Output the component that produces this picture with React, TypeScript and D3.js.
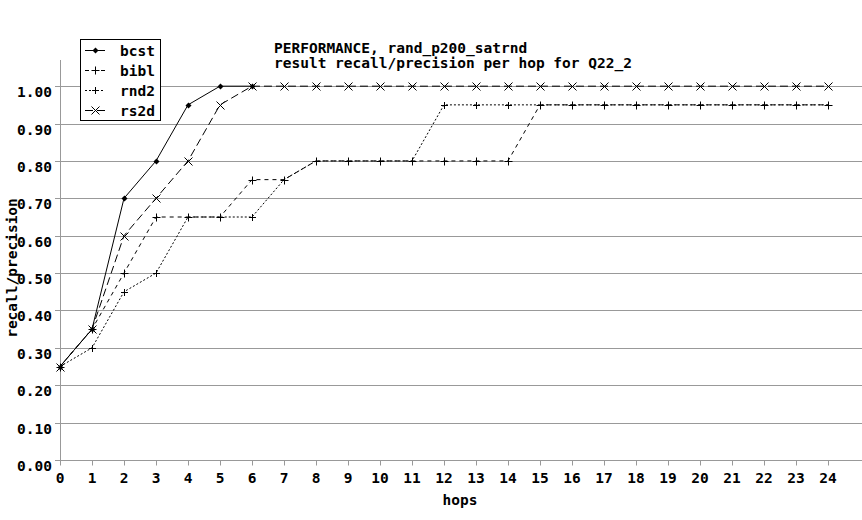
import * as d3 from "d3";

// hops on the x axis
const hops = [0, 1, 2, 3, 4, 5, 6, 7, 8, 9, 10, 11, 12, 13, 14, 15, 16, 17, 18, 19, 20, 21, 22, 23, 24];
const yTicks = [0, 0.1, 0.2, 0.3, 0.4, 0.5, 0.6, 0.7, 0.8, 0.9, 1.0];

// recall/precision per hop
const bcst = [0.25, 0.35, 0.7, 0.8, 0.95, 1.0, 1.0];
const bibl = [0.25, 0.35, 0.5, 0.65, 0.65, 0.65, 0.75, 0.75, 0.8, 0.8, 0.8, 0.8, 0.8, 0.8, 0.8, 0.95, 0.95, 0.95, 0.95, 0.95, 0.95, 0.95, 0.95, 0.95, 0.95];
const rnd2 = [0.25, 0.3, 0.45, 0.5, 0.65, 0.65, 0.65, 0.75, 0.8, 0.8, 0.8, 0.8, 0.95, 0.95, 0.95, 0.95, 0.95, 0.95, 0.95, 0.95, 0.95, 0.95, 0.95, 0.95, 0.95];
const rs2d = [0.25, 0.35, 0.6, 0.7, 0.8, 0.95, 1.0, 1.0, 1.0, 1.0, 1.0, 1.0, 1.0, 1.0, 1.0, 1.0, 1.0, 1.0, 1.0, 1.0, 1.0, 1.0, 1.0, 1.0, 1.0];

const titleLines = ["PERFORMANCE, rand_p200_satrnd", "result recall/precision per hop for Q22_2"];

type Marker = "dot" | "plus" | "smallplus" | "cross";
const series: { name: string; values: number[]; dash: string | undefined; marker: Marker }[] = [
  { name: "bcst", values: bcst, dash: undefined, marker: "dot" },
  { name: "bibl", values: bibl, dash: "4,4", marker: "plus" },
  { name: "rnd2", values: rnd2, dash: "2,2", marker: "smallplus" },
  { name: "rs2d", values: rs2d, dash: "8,4", marker: "cross" },
];

const W = 862;
const H = 520;
const FONT = "'DejaVu Sans Mono', monospace";
const GRID = "#999999";

const x = d3.scaleLinear().domain([0, 24]).range([60, 828]);
const y = d3.scaleLinear().domain([0, 1.07]).range([460, 60]);

function drawMarker(kind: Marker, cx: number, cy: number, key: string) {
  if (kind === "dot") {
    return <path key={key} d={`M${cx},${cy - 3}L${cx + 3},${cy}L${cx},${cy + 3}L${cx - 3},${cy}Z`} fill="#000" />;
  }
  if (kind === "plus" || kind === "smallplus") {
    const a = kind === "plus" ? 4 : 3.5;
    return <path key={key} d={`M${cx - a},${cy}H${cx + a}M${cx},${cy - a}V${cy + a}`} stroke="#000" strokeWidth={1} fill="none" />;
  }
  const a = 4;
  return <path key={key} d={`M${cx - a},${cy - a}L${cx + a},${cy + a}M${cx - a},${cy + a}L${cx + a},${cy - a}`} stroke="#000" strokeWidth={1} fill="none" />;
}

export default function App() {
  const line = d3
    .line<number>()
    .x((_, i) => x(hops[i]))
    .y((d) => y(d));

  const px = (v: number) => Math.round(v) + 0.5;

  return (
    <div style={{ position: "fixed", left: 0, top: 0 }}>
      <svg width={W} height={H} style={{ display: "block", background: "#fff" }} fontFamily={FONT}>
        <rect width={W} height={H} fill="#fff" />

        {/* grid + y ticks */}
        {yTicks.map((t) => (
          <g key={t}>
            {t > 0 && <line x1={60} x2={W} y1={px(y(t))} y2={px(y(t))} stroke={GRID} />}
            <line x1={55} x2={60} y1={px(y(t))} y2={px(y(t))} stroke={GRID} />
            <text x={52} y={px(y(t)) + 10} textAnchor="end" fontSize={14.5} fontWeight="bold">
              {d3.format(".2f")(t)}
            </text>
          </g>
        ))}

        {/* axes */}
        <line x1={60.5} x2={60.5} y1={60} y2={px(y(0))} stroke={GRID} />
        <line x1={60} x2={W} y1={px(y(0))} y2={px(y(0))} stroke={GRID} />
        {hops.map((h) => (
          <g key={h}>
            <line x1={px(x(h))} x2={px(x(h))} y1={px(y(0))} y2={px(y(0)) + 5} stroke={GRID} />
            <text x={x(h)} y={483} textAnchor="middle" fontSize={14.5} fontWeight="bold">
              {h}
            </text>
          </g>
        ))}
        <text x={460} y={505} textAnchor="middle" fontSize={14.5} fontWeight="bold">
          hops
        </text>
        <text transform="translate(17,268) rotate(-90)" textAnchor="middle" fontSize={14.5} fontWeight="bold">
          recall/precision
        </text>

        {/* series */}
        {series.map((s) => (
          <g key={s.name}>
            <path d={line(s.values) || ""} fill="none" stroke="#000" strokeWidth={1} strokeDasharray={s.dash} />
            {s.values.map((v, i) => drawMarker(s.marker, px(x(hops[i])), px(y(v)), `${s.name}-${i}`))}
          </g>
        ))}

        {/* title */}
        {titleLines.map((t, i) => (
          <text key={t} x={274} y={52.5 + i * 15} fontSize={14.5} fontWeight="bold">
            {t}
          </text>
        ))}

        {/* legend */}
        <rect x={80.5} y={39.5} width={80} height={81} fill="#fff" stroke="#000" />
        {series.map((s, i) => {
          const ly = 50.5 + i * 20;
          return (
            <g key={s.name}>
              <line x1={85} x2={105} y1={ly} y2={ly} stroke="#000" strokeDasharray={s.dash} />
              {drawMarker(s.marker, 95.5, ly, `leg-${s.name}`)}
              <text x={120} y={ly + 5} fontSize={14.5} fontWeight="bold">
                {s.name}
              </text>
            </g>
          );
        })}
      </svg>
    </div>
  );
}
